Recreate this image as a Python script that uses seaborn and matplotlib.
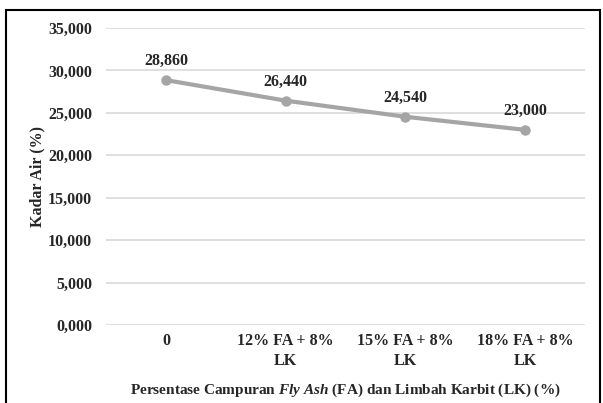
import matplotlib
matplotlib.use("Agg")
import matplotlib.pyplot as plt
import pandas as pd
import seaborn as sns
from matplotlib.patches import Rectangle

# chart data
categories = ["0", "12% FA + 8%\nLK", "15% FA + 8%\nLK", "18% FA + 8%\nLK"]
kadar_air = [28.860, 26.440, 24.540, 23.000]
y_ticks = [0, 5, 10, 15, 20, 25, 30, 35]


def fmt(v):
    # Indonesian style decimal comma
    return f"{v:.3f}".replace(".", ",")


sns.set_style("white")
plt.rcParams["font.family"] = ["Liberation Serif", "DejaVu Serif"]
plt.rcParams["font.weight"] = "bold"
plt.rcParams["mathtext.fontset"] = "custom"
plt.rcParams["mathtext.rm"] = "Liberation Serif:bold"
plt.rcParams["mathtext.it"] = "Liberation Serif:italic:bold"

FS = 11.5

df = pd.DataFrame({"x": range(len(categories)), "y": kadar_air})

fig = plt.figure(figsize=(6.03, 4.03), dpi=100)
ax = fig.add_axes([0.176, 0.1935, 0.794, 0.737])

sns.lineplot(
    data=df, x="x", y="y", ax=ax, color="#a5a5a5", linewidth=3,
    marker="o", markersize=7.5, markeredgewidth=0, zorder=3,
)

for i, v in enumerate(kadar_air):
    ax.annotate(fmt(v), (i, v), xytext=(0, 8), textcoords="offset points",
                ha="center", va="bottom", fontsize=FS, fontweight="bold")

ax.set_xlim(-0.5, len(categories) - 0.5)
ax.set_ylim(0, 35)
ax.set_yticks(y_ticks)
ax.set_yticklabels([fmt(t) for t in y_ticks], fontsize=FS, fontweight="bold")
ax.set_xticks(range(len(categories)))
ax.set_xticklabels(categories, fontsize=FS, fontweight="bold", linespacing=1.3)
ax.tick_params(axis="both", length=0)
ax.tick_params(axis="x", pad=6)
ax.tick_params(axis="y", pad=10)

ax.grid(axis="y", color="#d9d9d9", linewidth=1.2)
ax.set_axisbelow(True)
for s in ax.spines.values():
    s.set_visible(False)

ax.set_ylabel("Kadar Air (%)", fontsize=FS, fontweight="bold", labelpad=2)
ax.set_xlabel(r"Persentase Campuran $\mathit{Fly\ Ash\ (}$FA$\mathit{)}$ dan Limbah Karbit (LK) (%)",
              fontsize=11, fontweight="bold", labelpad=9)

# outer chart border
fig.patches.append(Rectangle((6 / 603, -0.05), 594 / 603, 1 - 10 / 403 + 0.05,
                             transform=fig.transFigure, fill=False,
                             edgecolor="black", linewidth=1.5))

fig.savefig("out.png", dpi=100, facecolor="white")
